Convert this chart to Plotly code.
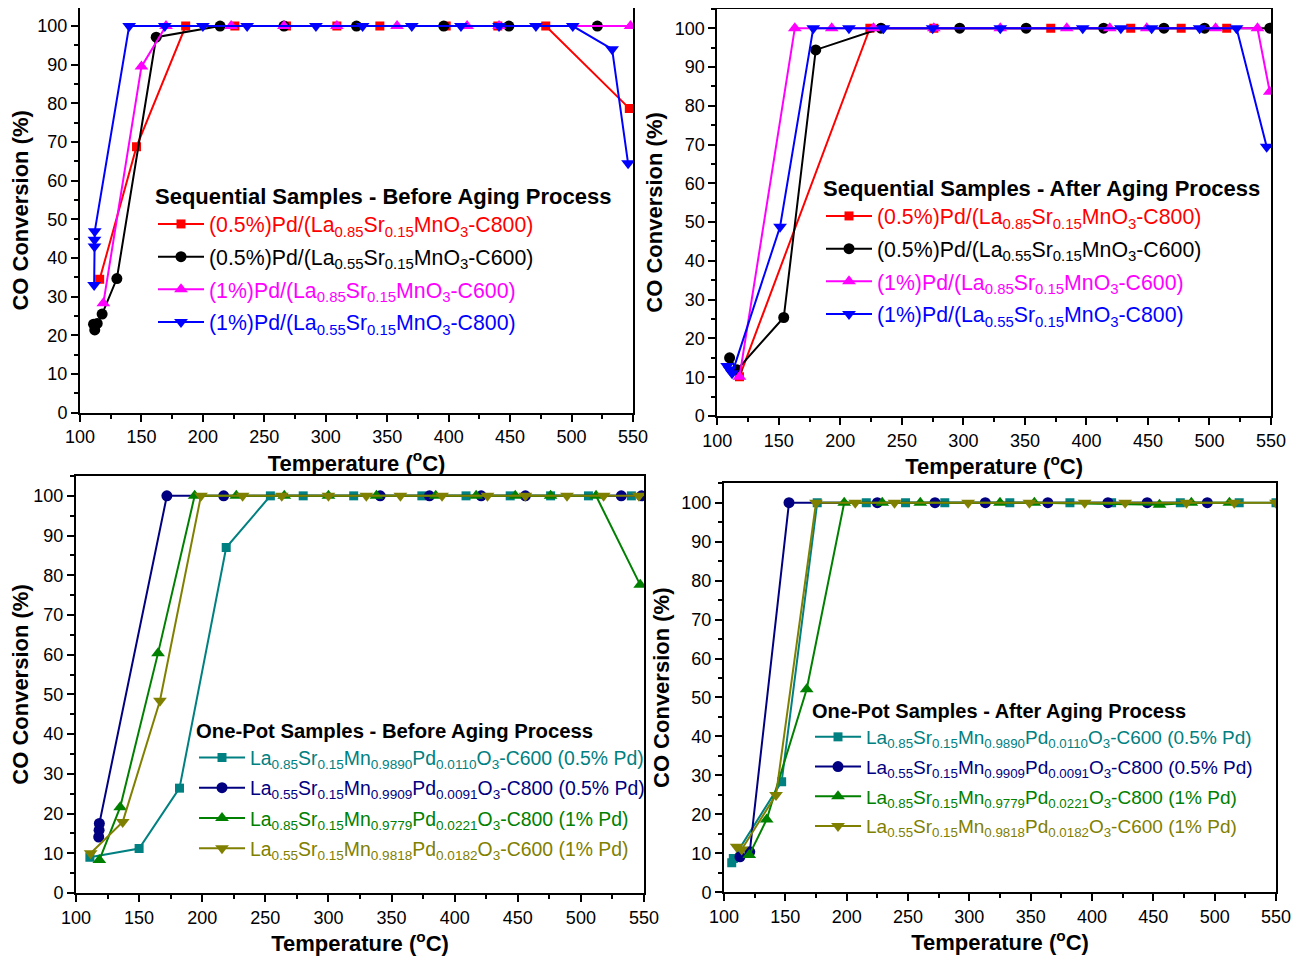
import plotly.graph_objects as go

# page offset of the plot div (browser default body margin)
OFF = 8
W, H = 1304 - OFF, 961 - OFF
FONT = "Arial, Liberation Sans, sans-serif"


def fx(px):
    return (px - OFF) / W


def fy(py):
    return min(1.0, max(0.0, 1 - (py - OFF) / H))


# ---------------- Panel 1: Sequential - before aging ----------------
p1_red_T = [116, 146, 186, 226, 268, 309, 344, 398, 440, 479, 547]
p1_red_v = [34.5, 68.8, 100, 100, 100, 100, 100, 100, 100, 100, 78.7]
p1_blk_T = [111, 112, 114, 118, 130, 162, 214, 266, 325, 396, 449, 521]
p1_blk_v = [22.9, 21.4, 23.1, 25.5, 34.7, 97.1, 100, 100, 100, 100, 100, 100]
p1_pnk_T = [119, 150, 170, 223, 266, 309, 358, 415, 441, 548]
p1_pnk_v = [28.3, 89.5, 100, 100, 100, 100, 100, 100, 100, 100]
p1_blu_T = [111.5, 111.8, 111.8, 112, 140, 169, 200, 236, 292, 330, 370, 410, 441, 471, 501, 533, 546]
p1_blu_v = [33.0, 43.0, 44.7, 46.9, 100, 100, 100, 100, 100, 100, 100, 100, 100, 100, 100, 94.0, 64.5]

# ---------------- Panel 2: Sequential - after aging ----------------
p2_red_T = [118, 224, 276, 371, 436, 477, 514]
p2_red_v = [10.1, 100, 100, 100, 100, 100, 100]
p2_blk_T = [110, 116, 154, 180, 233, 297, 351, 414, 463, 496, 549]
p2_blk_v = [15.0, 11.9, 25.4, 94.4, 100, 100, 100, 100, 100, 100, 100]
p2_pnk_T = [118, 163, 193, 227, 276, 330, 384, 419, 449, 505, 539, 549]
p2_pnk_v = [10.1, 100, 100, 100, 100, 100, 100, 100, 100, 100, 100, 83.6]
p2_blu_T = [108, 110, 112, 151, 178, 207, 235, 275, 330, 397, 428, 453, 492, 522, 546.5]
p2_blu_v = [12.9, 12.0, 11.0, 48.8, 100, 100, 100, 100, 100, 100, 100, 100, 100, 100, 69.4]

# ---------------- Panel 3: One-pot - before aging ----------------
p3_tea_T = [111, 150, 182, 219, 254, 280, 320, 374, 409, 444, 476, 506, 540]
p3_tea_v = [9.0, 11.2, 26.4, 87.0, 100, 100, 100, 100, 100, 100, 100, 100, 100]
p3_nav_T = [118, 118.3, 118.5, 172, 217, 341, 380, 421, 456, 532, 548]
p3_nav_v = [14.1, 15.8, 17.5, 100, 100, 100, 100, 100, 100, 100, 100]
p3_grn_T = [118.5, 135, 165, 194, 227, 265, 300, 338, 385, 417, 448, 476, 512, 547]
p3_grn_v = [8.3, 21.6, 60.4, 100, 100, 100, 100, 100, 100, 100, 100, 100, 100, 77.6]
p3_olv_T = [111.6, 137, 166.5, 199, 232, 263, 300, 330, 357, 390, 426, 456, 489, 518, 546]
p3_olv_v = [10.0, 17.9, 48.4, 100, 100, 100, 100, 100, 100, 100, 100, 100, 100, 100, 100]

# ---------------- Panel 4: One-pot - after aging ----------------
p4_tea_T = [106.3, 107.6, 147, 176, 216, 248, 280, 333, 382, 416, 472, 520, 550]
p4_tea_v = [7.6, 8.7, 28.4, 100, 100, 100, 100, 100, 100, 100, 100, 100, 100]
p4_nav_T = [113, 121, 153, 225, 272, 313, 364, 413, 445, 494]
p4_nav_v = [9.1, 10.4, 100, 100, 100, 100, 100, 100, 100, 100]
p4_grn_T = [120.6, 134.8, 167.4, 198, 229, 260, 325, 353, 455, 481, 512]
p4_grn_v = [9.6, 18.7, 52.1, 100, 100, 100, 100, 100, 99.5, 100, 100]
p4_olv_T = [110.3, 114.4, 142.4, 175, 207, 239, 299, 349, 394, 427, 477, 516, 550]
p4_olv_v = [11.7, 11.0, 25.0, 100, 100, 100, 100, 100, 100, 100, 100, 100, 100]

seq_names = [
    "(0.5%)Pd/(La<sub>0.85</sub>Sr<sub>0.15</sub>MnO<sub>3</sub>-C800)",
    "(0.5%)Pd/(La<sub>0.55</sub>Sr<sub>0.15</sub>MnO<sub>3</sub>-C600)",
    "(1%)Pd/(La<sub>0.85</sub>Sr<sub>0.15</sub>MnO<sub>3</sub>-C600)",
    "(1%)Pd/(La<sub>0.55</sub>Sr<sub>0.15</sub>MnO<sub>3</sub>-C800)",
]
pot_names = [
    "La<sub>0.85</sub>Sr<sub>0.15</sub>Mn<sub>0.9890</sub>Pd<sub>0.0110</sub>O<sub>3</sub>-C600 (0.5% Pd)",
    "La<sub>0.55</sub>Sr<sub>0.15</sub>Mn<sub>0.9909</sub>Pd<sub>0.0091</sub>O<sub>3</sub>-C800 (0.5% Pd)",
    "La<sub>0.85</sub>Sr<sub>0.15</sub>Mn<sub>0.9779</sub>Pd<sub>0.0221</sub>O<sub>3</sub>-C800 (1% Pd)",
    "La<sub>0.55</sub>Sr<sub>0.15</sub>Mn<sub>0.9818</sub>Pd<sub>0.0182</sub>O<sub>3</sub>-C600 (1% Pd)",
]
seq_colors = ["#FF0000", "#000000", "#FF00FF", "#0000FF"]
pot_colors = ["#008080", "#000080", "#008000", "#808000"]
symbols = ["square", "circle", "triangle-up", "triangle-down"]
msizes = [9, 11, 12, 12]

# pixel geometry (page coordinates); ytop = axis value at the top frame
panels = [
    dict(data=[(p1_red_T, p1_red_v), (p1_blk_T, p1_blk_v), (p1_pnk_T, p1_pnk_v), (p1_blu_T, p1_blu_v)],
         names=seq_names, colors=seq_colors, title="Sequential Samples - Before Aging Process",
         xpx=(80, 633), ypx=(412.7, 8), ytop=104.66, leg=(153, 175), gap=2, fs=21.3, tfs=22),
    dict(data=[(p2_red_T, p2_red_v), (p2_blk_T, p2_blk_v), (p2_pnk_T, p2_pnk_v), (p2_blu_T, p2_blu_v)],
         names=seq_names, colors=seq_colors, title="Sequential Samples - After Aging Process",
         xpx=(717.3, 1271), ypx=(416, 8.8), ytop=105, leg=(821, 167), gap=2, fs=21.3, tfs=22),
    dict(data=[(p3_tea_T, p3_tea_v), (p3_nav_T, p3_nav_v), (p3_grn_T, p3_grn_v), (p3_olv_T, p3_olv_v)],
         names=pot_names, colors=pot_colors, title="One-Pot Samples - Before Aging Process",
         xpx=(76, 644), ypx=(893, 476), ytop=105, leg=(194, 712), gap=2, fs=19.4, tfs=20.3),
    dict(data=[(p4_tea_T, p4_tea_v), (p4_nav_T, p4_nav_v), (p4_grn_T, p4_grn_v), (p4_olv_T, p4_olv_v)],
         names=pot_names, colors=pot_colors, title="One-Pot Samples - After Aging Process",
         xpx=(724, 1276), ypx=(892.3, 483.2), ytop=105, leg=(810, 692), gap=2, fs=19, tfs=20),
]

fig = go.Figure()
layout = dict(width=W, height=H, margin=dict(l=0, r=0, t=0, b=0, autoexpand=False),
              paper_bgcolor="white", plot_bgcolor="white",
              font=dict(family=FONT, size=18, color="black"), showlegend=True)

for i, p in enumerate(panels):
    k = "" if i == 0 else str(i + 1)
    legname = "legend" if i == 0 else f"legend{i + 1}"
    for j, (T, v) in enumerate(p["data"]):
        c = p["colors"][j]
        fig.add_trace(go.Scatter(
            x=T, y=v, mode="lines+markers",
            name=f'<span style="color:{c}">{p["names"][j]}</span>',
            line=dict(color=c, width=2),
            marker=dict(symbol=symbols[j], size=msizes[j], color=c),
            xaxis="x" + k, yaxis="y" + k, legend=legname,
            legendgroup=f"g{i}_{j}",
        ))
    axcommon = dict(showline=True, linecolor="black", linewidth=2, mirror=True,
                    ticks="outside", ticklen=7, tickwidth=1.5, tickcolor="black",
                    showgrid=False, zeroline=False, automargin=False,
                    tickfont=dict(family=FONT, size=18, color="black"))
    layout["xaxis" + k] = dict(axcommon, domain=[fx(p["xpx"][0]), fx(p["xpx"][1])],
                              range=[100, 550], dtick=50, anchor="y" + k,
                              minor=dict(ticks="outside", ticklen=4, dtick=25, tickcolor="black"),
                              title=dict(text="<b>Temperature (<sup>o</sup>C)</b>",
                                         font=dict(family=FONT, size=22), standoff=1))
    layout["yaxis" + k] = dict(axcommon, domain=[fy(p["ypx"][0]), fy(p["ypx"][1])],
                              range=[0, p["ytop"]], dtick=10, anchor="x" + k,
                              minor=dict(ticks="outside", ticklen=4, dtick=5, tickcolor="black"),
                              title=dict(text="<b>CO Conversion (%)</b>",
                                         font=dict(family=FONT, size=22), standoff=6))
    layout[legname] = dict(x=fx(p["leg"][0]), y=fy(p["leg"][1]), xanchor="left", yanchor="top",
                           bgcolor="rgba(0,0,0,0)", borderwidth=0,
                           title=dict(text=f"<b>{p['title']}</b>", font=dict(family=FONT, size=p["tfs"])),
                           font=dict(family=FONT, size=p["fs"]), tracegroupgap=p["gap"],
                           itemwidth=46)

fig.update_layout(**layout)
fig.write_html("out.html")
